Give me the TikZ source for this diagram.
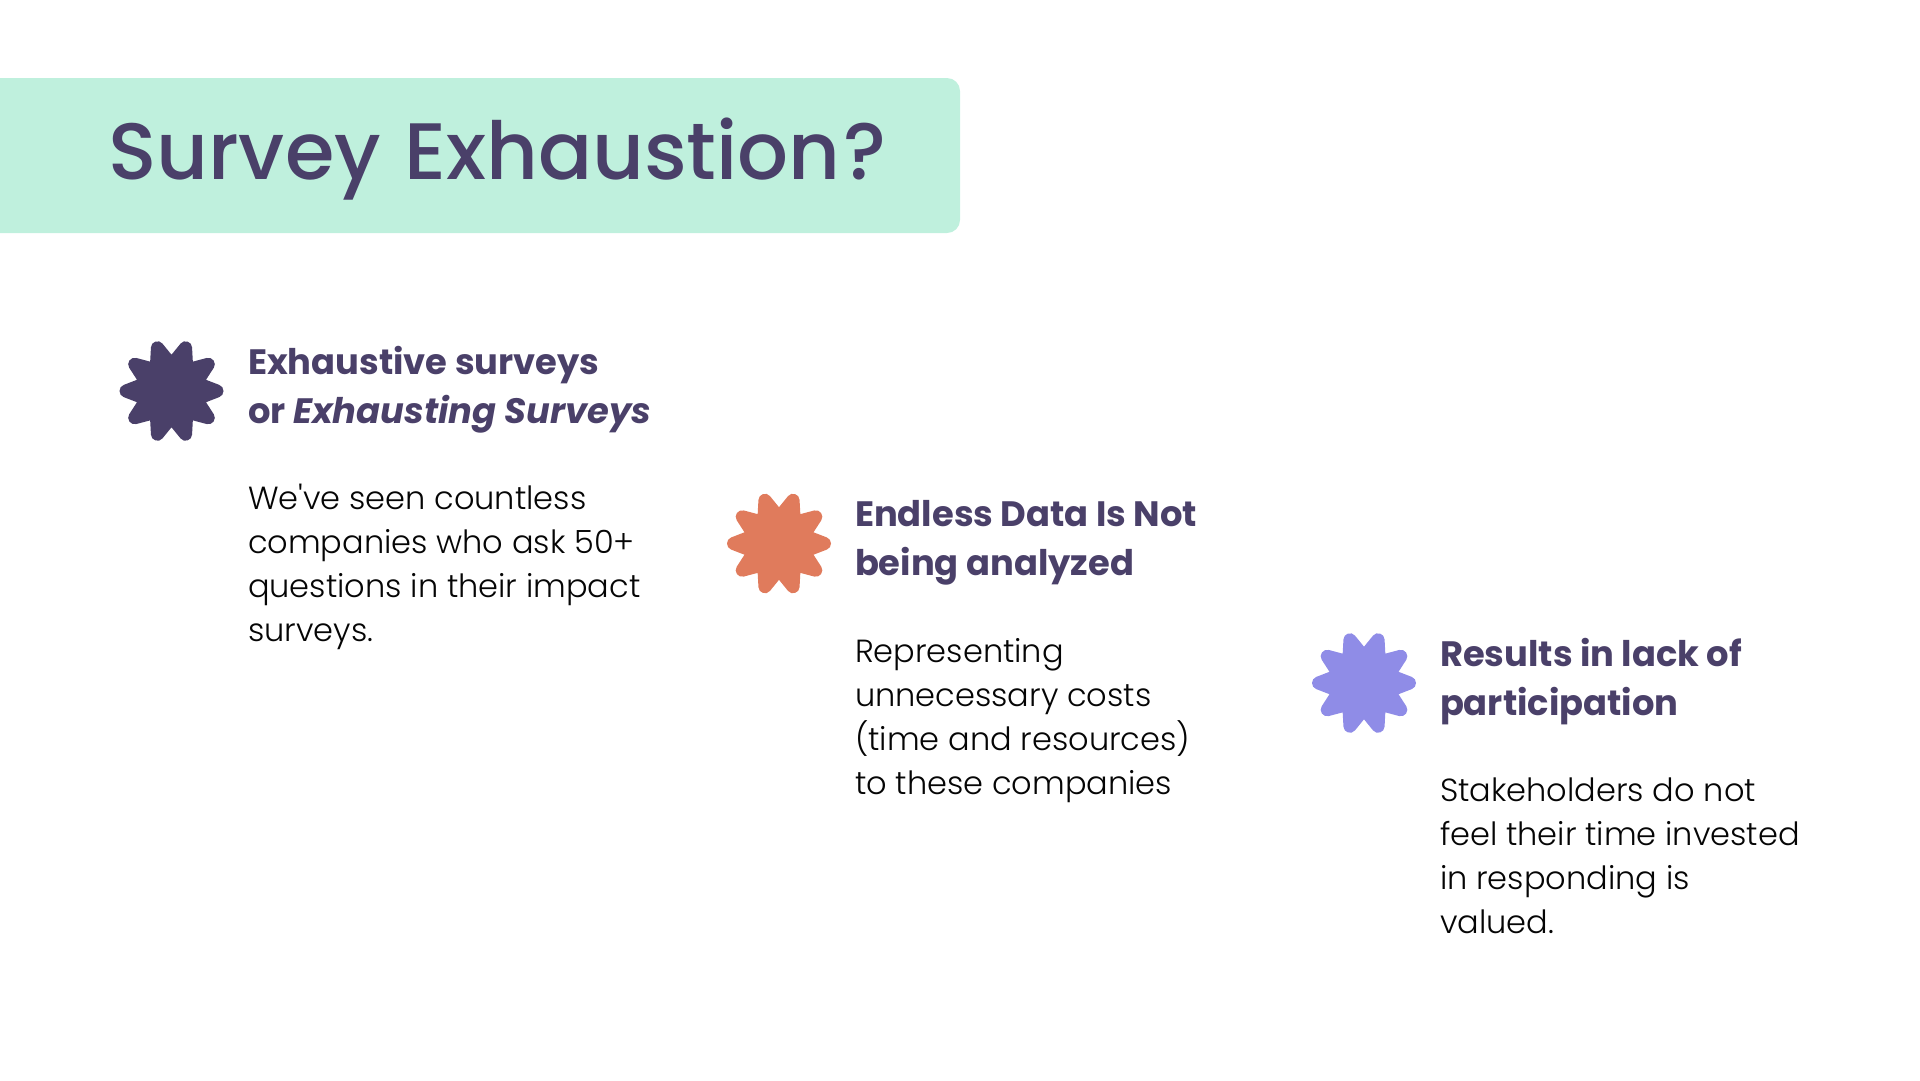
\documentclass[tikz,border=0pt]{standalone}
\usepackage{fontspec}
\setmainfont{Poppins}
\newfontfamily\popL{Poppins Light}
\newfontfamily\popM{Poppins Medium}
\newfontfamily\popB[ItalicFont={Poppins Bold Italic}]{Poppins Bold}
\definecolor{ink}{HTML}{4A4069}
\definecolor{mint}{HTML}{BFF0DD}
\definecolor{coral}{HTML}{E07B5C}
\definecolor{peri}{HTML}{8F8CE7}
\definecolor{bodyk}{HTML}{050505}
\tikzset{
  x=1pt,y=-1pt,
  headtext/.style={anchor=north west,inner sep=0pt,outer sep=0pt,align=left,text=ink,font=\popB\fontsize{35.3}{49}\selectfont},
  bodytext/.style={anchor=north west,inner sep=0pt,outer sep=0pt,align=left,text=bodyk,font=\popL\fontsize{32}{44}\selectfont},
  titletext/.style={anchor=base west,inner sep=0pt,outer sep=0pt,text=ink,font=\popM\fontsize{80}{90}\selectfont},
}
\newcommand{\starshape}[3]{%
  \path[fill=#3,draw=#3,line width=13pt,line join=round,shift={(#1,#2)}]
    (0:45.5) \foreach \i in {0,...,9} { -- (\i*36+18:26) -- (\i*36+36:45.5) } -- cycle;}
\begin{document}
\begin{tikzpicture}
\useasboundingbox (0,0) rectangle (1920,1080);
\fill[mint,rounded corners=13pt] (-30,78) rectangle (960,233);
\node[titletext] (title) at (108,179) {Survey\kern2.5pt{} Exhaustion\kern2.5pt?};
\starshape{171.5}{391}{ink}
\node[headtext] (h1) at (248,346) {Exhaustive surveys\\or \textit{Exhausting Surveys}};
\node[bodytext] (b1) at (248,484.5) {We've seen countless\\companies who ask 50+\\questions in their impact\\surveys.};
\starshape{779}{543.5}{coral}
\node[headtext] (h2) at (855,500) {Endless Data Is Not\\being analyzed};
\node[bodytext] (b2) at (855,638) {Representing\\unnecessary costs\\(time and resources)\\to these companies};
\starshape{1364}{683}{peri}
\node[headtext] (h3) at (1440,638) {Results in lack of\\participation};
\node[bodytext] (b3) at (1440,777.5) {Stakeholders do not\\feel their time invested\\in responding is\\valued.};
\end{tikzpicture}
\end{document}
